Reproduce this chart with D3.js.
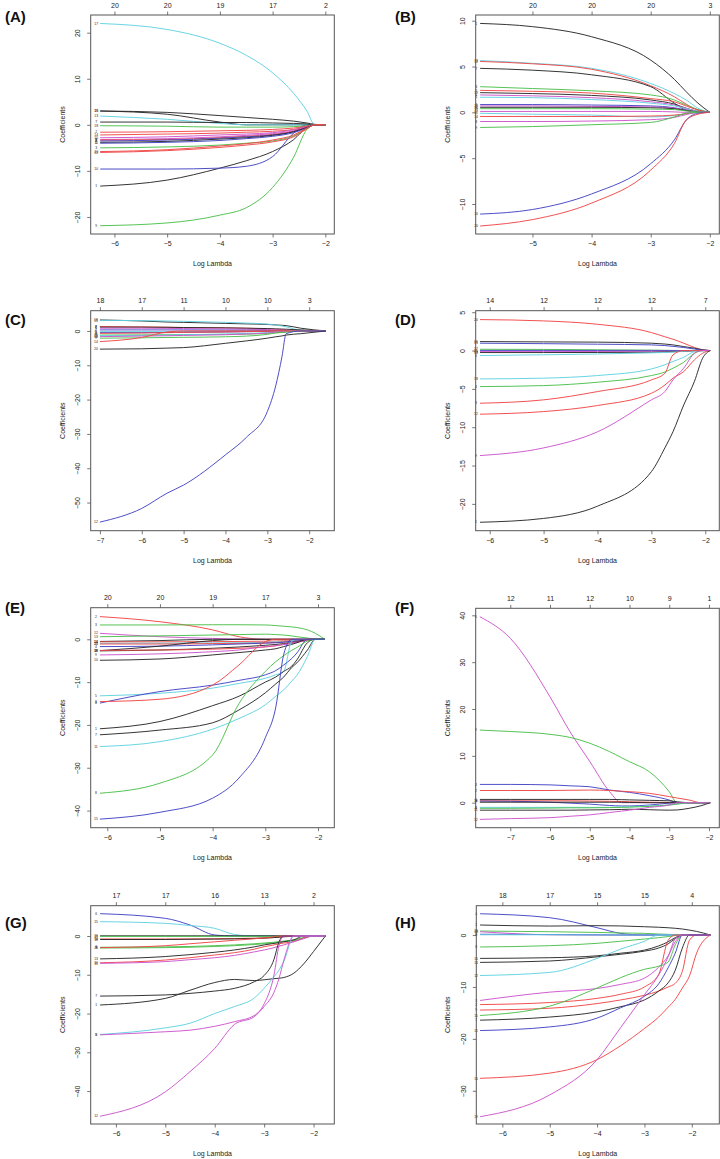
<!DOCTYPE html>
<html><head><meta charset="utf-8">
<script src="https://cdn.jsdelivr.net/npm/d3@7"></script>
<style>html,body{margin:0;padding:0;background:#fff;} svg{display:block;}</style>
</head><body><svg id="c" width="720" height="1159"></svg>
<script>
// ---------------- DATA ----------------
// Panel A
const lambdaA = [-6.27, -5, -4, -3.5, -3, -2.6, -2.35, -2.2, -2.0];
const pathsA = [
 {id:"17", c:"c", v:[22.0,20.7,17.7,15.1,11.3,6.8,3.0,0,0]},
 {id:"9",  c:"g", v:[-21.9,-21.3,-19.6,-18.0,-13.6,-7.0,-1.0,0,0]},
 {id:"1",  c:"k", v:[-13.3,-12.0,-9.4,-7.8,-5.8,-3.2,-0.6,0,0]},
 {id:"10", c:"b", v:[-9.6,-9.6,-9.4,-9.0,-6.9,-1.8,0,0,0]},
 {id:"16", c:"k", v:[3.0,2.7,2.0,1.6,1.2,0.8,0.4,0.1,0]},
 {id:"19", c:"k", v:[3.0,2.3,0.6,0,0,0,0,0,0]},
 {id:"13", c:"c", v:[1.9,1.2,0.3,0,0,0,0,0,0]},
 {id:"7",  c:"k", v:[0.6,0.6,0.5,0.5,0.4,0.3,0.2,0,0]},
 {id:"18", c:"g", v:[-0.2,-0.3,-0.5,-0.5,-0.5,-0.4,-0.2,0,0]},
 {id:"2",  c:"r", v:[-1.6,-1.5,-1.3,-1.2,-1.0,-0.7,-0.3,0,0]},
 {id:"14", c:"r", v:[-2.2,-2.0,-1.8,-1.6,-1.4,-1.0,-0.4,0,0]},
 {id:"15", c:"m", v:[-2.8,-2.6,-2.2,-2.0,-1.7,-1.1,-0.4,0,0]},
 {id:"6",  c:"m", v:[-3.2,-3.0,-2.6,-2.3,-1.9,-1.3,-0.5,0,0]},
 {id:"8",  c:"r", v:[-3.3,-3.2,-2.8,-2.5,-2.1,-1.4,-0.5,0,0]},
 {id:"4",  c:"b", v:[-3.5,-3.3,-2.9,-2.6,-2.2,-1.5,-0.6,0,0]},
 {id:"11", c:"k", v:[-3.8,-3.6,-3.1,-2.8,-2.3,-1.5,-0.6,0,0]},
 {id:"5",  c:"b", v:[-4.0,-3.8,-3.4,-3.0,-2.5,-1.7,-0.7,0,0]},
 {id:"3",  c:"g", v:[-5.0,-4.8,-4.4,-4.0,-3.5,-2.4,-0.8,0,0]},
 {id:"20", c:"r", v:[-5.8,-5.4,-4.6,-4.1,-3.3,-2.2,-0.7,0,0]},
 {id:"12", c:"r", v:[-6.0,-5.6,-4.9,-4.4,-3.7,-2.6,-0.9,0,0]}
];
const xTicksA = [-6,-5,-4,-3,-2];
const dfA = [20,20,19,17,2];
const yTicksA = [-20,-10,0,10,20];

// Panel B
const lambdaB = [-5.885, -5, -4, -3, -2.6, -2.4, -2.2, -2.0];
const pathsB = [
 {id:"1",  c:"k", v:[9.7,9.35,8.25,5.7,3.6,2.25,1.0,0]},
 {id:"13", c:"c", v:[5.65,5.35,4.8,3.15,2.05,1.35,0.45,0]},
 {id:"12", c:"r", v:[5.55,5.3,4.7,2.9,1.7,0.9,0.25,0]},
 {id:"7",  c:"k", v:[4.8,4.6,4.1,2.8,1.0,0.25,0.05,0]},
 {id:"3",  c:"g", v:[2.8,2.6,2.35,1.9,1.35,0.8,0.3,0]},
 {id:"2",  c:"r", v:[2.4,2.3,2.1,1.5,1.15,0.7,0.25,0]},
 {id:"19", c:"k", v:[2.15,2.05,1.85,1.35,0.9,0.45,0.1,0]},
 {id:"6",  c:"m", v:[1.9,1.8,1.6,1.15,0.8,0.45,0.1,0]},
 {id:"5",  c:"c", v:[1.65,1.6,1.4,1.0,0.7,0.4,0.1,0]},
 {id:"4",  c:"b", v:[0.85,0.85,0.8,0.7,0.5,0.25,0.05,0]},
 {id:"18", c:"m", v:[0.7,0.7,0.65,0.6,0.45,0.25,0.05,0]},
 {id:"16", c:"k", v:[0.55,0.55,0.55,0.5,0.4,0.2,0.05,0]},
 {id:"15", c:"g", v:[0.4,0.4,0.4,0.35,0.3,0.15,0.05,0]},
 {id:"17", c:"m", v:[0.1,0.1,0.1,0.1,0.05,0,0,0]},
 {id:"11", c:"c", v:[-0.1,-0.2,-0.3,-0.5,-0.35,-0.15,0,0]},
 {id:"14", c:"r", v:[-0.45,-0.45,-0.45,-0.4,-0.3,-0.15,0,0]},
 {id:"8",  c:"m", v:[-1.0,-1.0,-0.95,-0.8,-0.55,-0.25,0,0]},
 {id:"9",  c:"g", v:[-1.65,-1.55,-1.35,-1.1,-0.5,-0.1,0,0]},
 {id:"10", c:"b", v:[-11.1,-10.6,-8.9,-5.6,-3.0,-0.85,-0.1,0]},
 {id:"20", c:"r", v:[-12.4,-11.7,-9.9,-6.3,-3.4,-0.85,-0.2,0]}
];
const xTicksB = [-5,-4,-3,-2];
const dfB = [20,20,20,3];
const yTicksB = [-10,-5,0,5,10];

// Panel C
const lambdaC = [-7, -6, -5.4, -5, -4, -3.5, -3, -2.8, -2.65, -2.55, -2.2, -1.6];
const pathsC = [
 {id:"18", c:"k", v:[3.2,2.9,2.6,2.5,2.2,2.05,1.9,1.75,1.65,1.55,0.8,0]},
 {id:"15", c:"c", v:[3.1,3.0,2.9,2.8,2.5,2.3,2.0,1.7,1.45,1.2,0.2,0]},
 {id:"7",  c:"r", v:[1.3,1.2,1.1,1.0,0.9,0.8,0.6,0.5,0.4,0.3,0.1,0]},
 {id:"8",  c:"k", v:[1.1,1.1,1.05,1.0,0.9,0.8,0.7,0.6,0.55,0.5,0.3,0]},
 {id:"6",  c:"m", v:[0.8,0.8,0.75,0.7,0.6,0.5,0.4,0.3,0.25,0.2,0.05,0]},
 {id:"4",  c:"b", v:[0.3,0.3,0.3,0.3,0.25,0.2,0.15,0.1,0.07,0.05,0,0]},
 {id:"5",  c:"c", v:[-0.2,-0.2,-0.2,-0.2,-0.15,-0.1,-0.1,-0.05,-0.02,0,0,0]},
 {id:"11", c:"b", v:[-0.5,-0.5,-0.45,-0.4,-0.3,-0.2,-0.1,0,0,0,0,0]},
 {id:"2",  c:"r", v:[-0.7,-0.6,-0.5,-0.4,-0.3,-0.2,-0.1,0,0,0,0,0]},
 {id:"3",  c:"g", v:[-1.2,-1.15,-1.1,-1.05,-1.0,-0.9,-0.7,-0.5,-0.4,-0.3,0,0]},
 {id:"13", c:"c", v:[-1.4,-1.3,-1.2,-1.1,-0.9,-0.7,-0.5,-0.3,-0.2,-0.1,0,0]},
 {id:"16", c:"m", v:[-1.65,-1.5,-1.4,-1.3,-1.1,-0.9,-0.6,-0.4,-0.3,-0.2,0,0]},
 {id:"9",  c:"g", v:[-2.1,-2.0,-1.9,-1.85,-1.7,-1.5,-1.0,-0.6,-0.45,-0.3,0,0]},
 {id:"14", c:"r", v:[-3.1,-1.9,-0.3,0,0,0,0,0,0,0,0,0]},
 {id:"20", c:"k", v:[-5.3,-5.2,-5.0,-4.85,-3.6,-2.9,-2.1,-1.7,-1.45,-1.2,-0.8,0]},
 {id:"12", c:"b", v:[-55.7,-51.7,-47.3,-44.9,-36.1,-31.0,-23.5,-16.0,-7.5,-0.8,0,0]}
];
const xTicksC = [-7,-6,-5,-4,-3,-2];
const dfC = [18,17,11,10,10,3];
const yTicksC = [-50,-40,-30,-20,-10,0];

// Panel D
const lambdaD = [-6.18, -5, -4, -3, -2.75, -2.6, -2.4, -2.2, -2.05, -1.91];
const pathsD = [
 {id:"20", c:"r", v:[4.04,3.87,3.43,2.35,1.8,1.48,0.96,0.4,0.1,0]},
 {id:"16", c:"k", v:[1.17,1.13,1.1,0.96,0.85,0.74,0.52,0.3,0.1,0]},
 {id:"15", c:"b", v:[0.96,0.9,0.83,0.74,0.65,0.55,0.4,0.2,0.05,0]},
 {id:"17", c:"g", v:[0.17,0.15,0.1,0.05,0.03,0.02,0,0,0,0]},
 {id:"11", c:"b", v:[0.02,0.02,0.02,0.02,0.01,0.01,0,0,0,0]},
 {id:"13", c:"m", v:[-0.13,-0.13,-0.12,-0.1,-0.09,-0.08,-0.05,0,0,0]},
 {id:"14", c:"k", v:[-0.26,-0.26,-0.25,-0.22,-0.18,-0.15,-0.1,-0.02,0,0]},
 {id:"6",  c:"c", v:[-0.65,-0.55,-0.45,-0.3,-0.25,-0.2,-0.1,0,0,0]},
 {id:"18", c:"c", v:[-3.7,-3.6,-3.26,-2.4,-1.85,-1.43,-0.87,-0.13,0,0]},
 {id:"4",  c:"g", v:[-4.7,-4.57,-4.13,-3.26,-2.8,-2.3,-1.52,-0.35,0,0]},
 {id:"3",  c:"r", v:[-6.87,-6.43,-5.35,-3.83,-2.96,-0.57,0,0,0,0]},
 {id:"12", c:"r", v:[-8.3,-7.96,-7.17,-5.57,-4.5,-3.6,-2.74,-1.2,-0.35,0]},
 {id:"9",  c:"m", v:[-13.7,-12.7,-10.6,-6.43,-5.35,-3.83,-2.3,-0.35,0,0]},
 {id:"1",  c:"k", v:[-22.4,-21.9,-20.3,-15.8,-12.7,-10.6,-7.1,-4.0,-1.0,0]}
];
const xTicksD = [-6,-5,-4,-3,-2];
const dfD = [14,12,12,12,7];
const yTicksD = [-20,-15,-10,-5,0,5];

// Panel E
const lambdaE = [-6.14, -5, -4, -3.5, -3, -2.8, -2.65, -2.5, -2.4, -2.2, -2.05, -1.87];
const pathsE = [
 {id:"2",  c:"r", v:[5.3,4.1,2.2,0.6,0,0,0,0,0,0,0,0]},
 {id:"3",  c:"g", v:[3.35,3.35,3.4,3.4,3.35,3.2,3.05,2.9,2.75,2.2,1.4,0]},
 {id:"12", c:"m", v:[1.4,0.6,0.2,0.05,0,0,0,0,0,0,0,0]},
 {id:"13", c:"g", v:[0.6,0.8,1.0,1.1,1.2,1.1,1.0,0.8,0.6,0.3,0,0]},
 {id:"16", c:"k", v:[-0.5,-0.3,0,0,0,0,0,0,0,0,0,0]},
 {id:"14", c:"r", v:[-0.6,-0.6,-0.55,-0.5,-0.45,-0.4,-0.35,-0.3,-0.25,-0.1,0,0]},
 {id:"17", c:"c", v:[-0.95,-0.9,-0.85,-0.8,-0.7,-0.6,-0.5,-0.4,-0.3,-0.1,0,0]},
 {id:"20", c:"r", v:[-1.1,-1.1,-1.0,-0.95,-0.85,-0.75,-0.6,-0.5,-0.4,-0.15,0,0]},
 {id:"4",  c:"b", v:[-1.7,-1.6,-1.3,-1.1,-0.9,-0.8,-0.7,-0.5,-0.4,-0.15,0,0]},
 {id:"19", c:"k", v:[-2.65,-1.6,-0.3,0,0,0,0,0,0,0,0,0]},
 {id:"18", c:"k", v:[-2.7,-2.5,-2.1,-1.8,-1.4,-1.2,-1.0,-0.8,-0.6,-0.2,0,0]},
 {id:"8",  c:"r", v:[-2.6,-2.5,-2.3,-2.1,-1.8,-1.5,-1.2,-0.9,-0.7,-0.2,0,0]},
 {id:"9",  c:"m", v:[-3.65,-3.4,-2.9,-2.5,-1.7,-1.5,-1.2,-0.9,-0.7,-0.2,0,0]},
 {id:"10", c:"k", v:[-4.9,-4.6,-3.65,-3.1,-2.5,-2.2,-1.7,-1.2,-0.8,0,0,0]},
 {id:"5",  c:"c", v:[-13.2,-12.6,-11.4,-10.3,-9.1,-8.3,-7.5,-0.5,0,0,0,0]},
 {id:"4",  c:"b", v:[-14.9,-12.2,-10.7,-9.6,-8.3,-7.3,-6.0,-4.5,-3.2,0,0,0]},
 {id:"6",  c:"r", v:[-14.55,-14.0,-10.7,-6.0,-0.55,0,0,0,0,0,0,0]},
 {id:"1",  c:"k", v:[-20.9,-19.2,-15.5,-13.3,-10.0,-8.8,-7.5,-6.3,-4.8,-0.8,0,0]},
 {id:"7",  c:"k", v:[-22.3,-21.2,-19.5,-16.5,-12.5,-10.4,-8.8,-6.6,-5.5,-2.5,0,0]},
 {id:"11", c:"c", v:[-25.05,-23.9,-21.0,-18.5,-15.3,-13.3,-11.8,-9.8,-8.4,-4.0,0,0]},
 {id:"8",  c:"g", v:[-35.95,-33.6,-27.0,-15.0,-7.5,-5.2,-3.8,-2.6,-1.9,-0.4,0,0]},
 {id:"15", c:"b", v:[-42.0,-40.4,-37.1,-32.4,-23.0,-15.8,-3.5,0,0,0,0,0]}
];
const xTicksE = [-6,-5,-4,-3,-2];
const dfE = [20,20,19,17,3];
const yTicksE = [-40,-30,-20,-10,0];

// Panel F
const lambdaF = [-7.765, -7, -6, -5.5, -5, -4.5, -4.2, -4, -3.5, -3, -2.8, -2.5, -2.2, -1.97];
const pathsF = [
 {id:"6",  c:"m", v:[39.7,35.1,22.6,15.2,8.8,2.35,0,0,0,0,0,0,0,0]},
 {id:"9",  c:"g", v:[15.5,15.2,14.6,13.95,12.7,10.9,9.6,8.75,6.6,2.35,0,0,0,0]},
 {id:"4",  c:"b", v:[3.9,3.9,3.8,3.6,3.4,2.7,2.4,2.2,1.5,0.57,0,0,0,0]},
 {id:"2",  c:"r", v:[2.6,2.6,2.6,2.65,2.7,2.6,2.45,2.35,2.0,1.3,1.0,0.57,0,0]},
 {id:"1",  c:"k", v:[0.7,0.7,0.7,0.7,0.7,0.7,0.65,0.6,0.5,0.4,0.2,0,0,0]},
 {id:"8",  c:"r", v:[0.4,0.4,0.4,0.4,0.35,0.3,0.25,0.2,0.1,0.05,0,0,0,0]},
 {id:"10", c:"b", v:[0.35,0.3,0.1,-0.1,-0.3,-0.6,-0.7,-0.7,-0.5,-0.1,0,0,0,0]},
 {id:"7",  c:"k", v:[0.1,0.1,0.1,0.1,0.1,0.1,0.1,0.05,0,0,0,0,0,0]},
 {id:"5",  c:"c", v:[-1.0,-1.0,-1.0,-1.0,-1.0,-1.0,-0.95,-0.9,-0.7,-0.5,-0.3,0,0,0]},
 {id:"3",  c:"g", v:[-1.2,-1.2,-1.15,-1.1,-1.1,-1.05,-1.0,-0.95,-0.8,-0.5,-0.3,0,0,0]},
 {id:"11", c:"k", v:[-1.6,-1.6,-1.6,-1.6,-1.55,-1.5,-1.45,-1.4,-1.5,-1.6,-1.55,-1.2,-0.65,0]},
 {id:"12", c:"m", v:[-3.56,-3.4,-3.2,-2.9,-2.6,-2.1,-1.8,-1.6,-1.0,-0.5,0,0,0,0]}
];
const xTicksF = [-7,-6,-5,-4,-3,-2];
const dfF = [12,11,12,10,9,1];
const yTicksF = [0,10,20,30,40];

// Panel G
const lambdaG = [-6.32, -5, -4.5, -4, -3.6, -3.2, -3, -2.8, -2.7, -2.6, -2.4, -2.2, -2.0, -1.76];
const pathsG = [
 {id:"6",  c:"b", v:[5.76,4.56,2.84,0.26,0,0,0,0,0,0,0,0,0,0]},
 {id:"15", c:"c", v:[3.7,3.27,2.7,1.98,0.4,0,0,0,0,0,0,0,0,0]},
 {id:"16", c:"k", v:[0.05,0.05,0.05,0.05,0.05,0.05,0.05,0.05,0.05,0.05,0.03,0,0,0]},
 {id:"17", c:"g", v:[-0.1,-0.1,-0.1,-0.1,-0.1,-0.1,-0.1,-0.1,-0.05,-0.05,0,0,0,0]},
 {id:"14", c:"r", v:[-0.77,-0.77,-0.75,-0.7,-0.65,-0.55,-0.5,-0.4,-0.3,-0.15,0,0,0,0]},
 {id:"18", c:"k", v:[-0.9,-0.9,-0.85,-0.8,-0.75,-0.65,-0.55,-0.4,-0.3,-0.2,-0.05,0,0,0]},
 {id:"3",  c:"g", v:[-2.9,-2.8,-2.7,-2.5,-2.3,-2.0,-1.8,-1.6,-1.45,-1.3,-1.0,-0.4,0,0]},
 {id:"9",  c:"g", v:[-3.1,-3.0,-2.9,-2.7,-2.5,-2.2,-2.0,-1.8,-1.65,-1.5,-1.2,-0.5,0,0]},
 {id:"20", c:"r", v:[-3.0,-2.5,-2.0,-1.5,-1.1,-0.7,-0.5,-0.2,0,0,0,0,0,0]},
 {id:"13", c:"k", v:[-5.9,-5.3,-4.8,-4.2,-3.6,-2.8,-2.3,-1.9,-1.7,-1.46,-1.0,0,0,0]},
 {id:"10", c:"r", v:[-6.9,-6.2,-5.6,-4.9,-4.3,-3.4,-2.75,-2.3,-2.0,-1.8,-1.46,-0.5,0,0]},
 {id:"11", c:"m", v:[-7.05,-6.6,-6.1,-5.6,-5.0,-4.1,-3.6,-3.0,-2.6,-2.3,-1.46,-0.7,0,0]},
 {id:"7",  c:"k", v:[-15.5,-15.2,-14.8,-14.2,-13.5,-11.8,-10.2,-6.0,-1.5,0,0,0,0,0]},
 {id:"1",  c:"k", v:[-17.8,-16.1,-14.0,-12.0,-11.2,-11.5,-11.3,-11.0,-10.9,-10.7,-9.6,-7.2,-4.0,0]},
 {id:"5",  c:"c", v:[-25.4,-23.7,-22.5,-20.0,-18.2,-16.0,-13.5,-10.5,-8.8,-6.5,0,0,0,0]},
 {id:"8",  c:"m", v:[-25.5,-24.7,-24.3,-23.3,-22.1,-20.5,-17.5,-10.0,-2.5,0,0,0,0,0]},
 {id:"12", c:"m", v:[-46.5,-40.2,-35.0,-29.0,-22.8,-20.8,-18.2,-14.5,-11.0,-6.2,0,0,0,0]}
];
const xTicksG = [-6,-5,-4,-3,-2];
const dfG = [17,17,16,13,2];
const yTicksG = [-40,-30,-20,-10,0];

// Panel H
const lambdaH = [-6.47, -5, -4, -3.5, -3, -2.7, -2.5, -2.35, -2.2, -2.05, -1.9, -1.61];
const pathsH = [
 {id:"4",  c:"b", v:[4.1,3.34,1.41,0.32,0,0,0,0,0,0,0,0]},
 {id:"1",  c:"k", v:[1.93,1.73,1.8,1.75,1.6,1.5,1.4,1.3,1.16,0.95,0.7,0]},
 {id:"20", c:"g", v:[0.77,0.64,0.5,0.4,0.32,0.2,0.13,0.05,0,0,0,0]},
 {id:"18", c:"m", v:[0.64,0.05,0,0,0,0,0,0,0,0,0,0]},
 {id:"5",  c:"b", v:[0.15,0.1,0.05,0,0,0,0,0,0,0,0,0]},
 {id:"6",  c:"c", v:[0.05,0.05,0.02,0,0,0,0,0,0,0,0,0]},
 {id:"8",  c:"g", v:[-2.3,-2.05,-1.6,-1.2,-0.77,-0.5,-0.3,-0.1,0,0,0,0]},
 {id:"10", c:"k", v:[-4.5,-4.37,-4.0,-3.5,-2.9,-2.1,-1.3,-0.5,0,0,0,0]},
 {id:"14", c:"k", v:[-5.27,-5.0,-4.2,-3.7,-3.1,-2.5,-1.7,-0.7,0,0,0,0]},
 {id:"12", c:"c", v:[-7.8,-7.2,-4.5,-2.7,-1.2,0,0,0,0,0,0,0]},
 {id:"3",  c:"m", v:[-12.6,-11.0,-10.3,-9.5,-8.3,-6.2,-4.0,-1.3,0,0,0,0]},
 {id:"2",  c:"r", v:[-13.4,-13.0,-12.2,-11.4,-10.0,-7.6,-1.0,0,0,0,0,0]},
 {id:"9",  c:"r", v:[-14.45,-14.1,-13.2,-12.5,-11.6,-10.8,-10.0,-9.3,-7.0,-1.0,0,0]},
 {id:"15", c:"g", v:[-15.5,-13.7,-10.2,-8.2,-6.6,-6.0,-5.2,-1.9,0,0,0,0]},
 {id:"7",  c:"k", v:[-16.4,-15.8,-14.8,-13.8,-12.5,-10.8,-9.2,-6.8,-2.5,0,0,0]},
 {id:"11", c:"b", v:[-18.4,-17.7,-16.0,-14.0,-11.8,-9.4,-6.3,-3.5,0,0,0,0]},
 {id:"16", c:"r", v:[-27.6,-26.6,-24.0,-21.3,-18.0,-15.8,-13.9,-12.4,-10.2,-7.9,-3.5,0]},
 {id:"19", c:"m", v:[-35.0,-30.8,-24.0,-17.8,-11.5,-7.7,-4.2,-0.7,0,0,0,0]}
];
const xTicksH = [-6,-5,-4,-3,-2];
const dfH = [18,17,15,15,4];
const yTicksH = [-30,-20,-10,0];

// ---------------- LAYOUT / STYLE ----------------
const palette = {k:"#2a2a2a", r:"#f04848", g:"#4cc04c", b:"#4545c4", c:"#62d2e2", m:"#cc55cc"};
const panels = [
 {key:"A", lam:lambdaA, paths:pathsA, xt:xTicksA, df:dfA, yt:yTicksA,
  box:[90.7,15,334.3,234], xd:[-6.45,-1.83], yd:[-23.7,23.84], lab:[5,17]},
 {key:"B", lam:lambdaB, paths:pathsB, xt:xTicksB, df:dfB, yt:yTicksB,
  box:[475.7,15,719.3,234], xd:[-5.96,-1.84], yd:[-13.27,10.62], lab:[395,17]},
 {key:"C", lam:lambdaC, paths:pathsC, xt:xTicksC, df:dfC, yt:yTicksC,
  box:[90.7,310.7,334.3,530.7], xd:[-7.22,-1.4], yd:[-58.2,5.9], lab:[5,320]},
 {key:"D", lam:lambdaD, paths:pathsD, xt:xTicksD, df:dfD, yt:yTicksD,
  box:[475.7,310.7,719.3,530.7], xd:[-6.26,-1.74], yd:[-23.5,5.2], lab:[395,320]},
 {key:"E", lam:lambdaE, paths:pathsE, xt:xTicksE, df:dfE, yt:yTicksE,
  box:[90.7,607.7,334.3,827.7], xd:[-6.315,-1.69], yd:[-44.0,7.38], lab:[5,608]},
 {key:"F", lam:lambdaF, paths:pathsF, xt:xTicksF, df:dfF, yt:yTicksF,
  box:[475.7,608.3,719.3,827.7], xd:[-7.87,-1.74], yd:[-5.34,41.5], lab:[395,608]},
 {key:"G", lam:lambdaG, paths:pathsG, xt:xTicksG, df:dfG, yt:yTicksG,
  box:[90.7,905.7,334.3,1124], xd:[-6.51,-1.58], yd:[-48.5,7.82], lab:[5,923]},
 {key:"H", lam:lambdaH, paths:pathsH, xt:xTicksH, df:dfH, yt:yTicksH,
  box:[476.3,905.7,719.3,1124], xd:[-6.55,-1.42], yd:[-36.4,5.65], lab:[395,923]}
];

const FONT = "'Liberation Sans', Arial, Helvetica, sans-serif";
const svg = d3.select("#c");
svg.append("rect").attr("width",720).attr("height",1159).attr("fill","#fff");
const fmt = v => (v < 0 ? "\u2212" + Math.abs(v) : String(v));

panels.forEach((p, i) => {
  const [L, T, R, B] = p.box;
  const x = d3.scaleLinear().domain(p.xd).range([L, R]);
  const y = d3.scaleLinear().domain(p.yd).range([B, T]);
  const g = svg.append("g");

  const clipId = "clip" + p.key;
  g.append("clipPath").attr("id", clipId)
    .append("rect").attr("x", L).attr("y", T).attr("width", R - L).attr("height", B - T);

  // coefficient paths
  const line = d3.line()
    .x((d, j) => x(p.lam[j]))
    .y(d => y(d))
    .curve(d3.curveMonotoneX);
  const pg = g.append("g").attr("clip-path", `url(#${clipId})`);
  pg.selectAll("path").data(p.paths).join("path")
    .attr("d", d => line(d.v))
    .attr("fill", "none")
    .attr("stroke", d => palette[d.c])
    .attr("stroke-width", 0.95)
    .attr("stroke-linejoin", "round");

  // variable labels at left end
  g.selectAll("text.vl").data(p.paths).join("text")
    .attr("class", "vl")
    .attr("x", x(p.lam[0]) - 4)
    .attr("y", d => y(d.v[0]))
    .attr("dy", "0.35em")
    .attr("text-anchor", "middle")
    .attr("font-family", FONT).attr("font-size", 3.4).attr("fill", "#222")
    .text(d => d.id);

  // bottom axis
  const bx = d3.axisBottom(x).tickValues(p.xt).tickSize(3.5).tickPadding(4).tickFormat(fmt);
  const ga = g.append("g").attr("transform", `translate(0,${B})`).call(bx);
  // top axis (degrees of freedom)
  const tx = d3.axisTop(x).tickValues(p.xt).tickSize(3.5).tickPadding(4)
    .tickFormat((d, j) => p.df[j]);
  const gt = g.append("g").attr("transform", `translate(0,${T})`).call(tx);
  // left axis
  const ly = d3.axisLeft(y).tickValues(p.yt).tickSize(3.5).tickPadding(0).tickFormat(fmt);
  const gl = g.append("g").attr("transform", `translate(${L},0)`).call(ly);
  gl.selectAll(".tick text")
    .attr("x", null)
    .attr("text-anchor", "middle")
    .attr("transform", "translate(-10.5,0) rotate(-90)")
    .attr("dy", "0em");

  [ga, gt, gl].forEach(a => {
    a.select(".domain").remove();
    a.selectAll(".tick line").attr("stroke", "#555").attr("stroke-width", 0.8);
    a.selectAll(".tick text").attr("font-family", FONT).attr("font-size", 7).attr("fill", "#222");
  });

  // box
  g.append("rect").attr("x", L).attr("y", T).attr("width", R - L).attr("height", B - T)
    .attr("fill", "none").attr("stroke", "#555").attr("stroke-width", 1);

  // axis titles
  g.append("text").attr("x", (L + R) / 2).attr("y", B + 30).attr("dy", "0.35em")
    .attr("text-anchor", "middle").attr("font-family", FONT).attr("font-size", 7).attr("fill", "#222")
    .text("Log Lambda");
  g.append("text")
    .attr("transform", `translate(${L - 28.5},${(T + B) / 2}) rotate(-90)`)
    .attr("dy", "0.35em")
    .attr("text-anchor", "middle").attr("font-family", FONT).attr("font-size", 7).attr("fill", "#222")
    .text("Coefficients");

  // panel letter
  g.append("text").attr("x", p.lab[0]).attr("y", p.lab[1]).attr("dy", "0.36em")
    .attr("font-family", FONT).attr("font-weight", "bold").attr("font-size", 15).attr("fill", "#111")
    .text(`(${p.key})`);
});
</script>
</body></html>
